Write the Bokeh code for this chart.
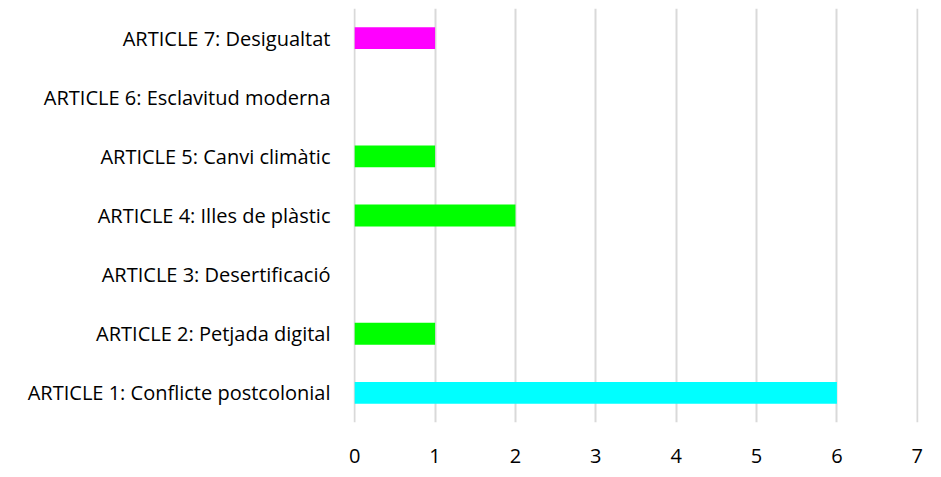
from bokeh.plotting import figure
from bokeh.models import ColumnDataSource, FactorRange, Range1d, FixedTicker
from bokeh.embed import file_html
from bokeh.resources import INLINE

categories = [
    "ARTICLE 1: Conflicte postcolonial",
    "ARTICLE 2: Petjada digital",
    "ARTICLE 3: Desertificació",
    "ARTICLE 4: Illes de plàstic",
    "ARTICLE 5: Canvi climàtic",
    "ARTICLE 6: Esclavitud moderna",
    "ARTICLE 7: Desigualtat",
]
values = [6, 1, 0, 2, 1, 0, 1]
colors = ["#00FFFF", "#00FF00", "#00FF00", "#00FF00", "#00FF00", "#FF00FF", "#FF00FF"]
x_ticks = [0, 1, 2, 3, 4, 5, 6, 7]

src = ColumnDataSource(dict(cat=categories, val=values, color=colors))

p = figure(width=933, height=475, output_backend="svg", toolbar_location=None,
           y_range=FactorRange(factors=categories), x_range=Range1d(-0.015, 7.015),
           min_border_left=353, min_border_right=15, min_border_top=8, min_border_bottom=53)
p.hbar(y="cat", left=0, right="val", height=0.37, fill_color="color", line_color=None, source=src)

p.outline_line_color = None
p.ygrid.grid_line_color = None
p.xgrid.grid_line_color = "#d9d9d9"
p.xgrid.grid_line_width = 2
p.xgrid.level = "underlay"
p.xaxis.ticker = FixedTicker(ticks=x_ticks)
for ax in (p.xaxis[0], p.yaxis[0]):
    ax.axis_line_color = None
    ax.major_tick_line_color = None
    ax.minor_tick_line_color = None
    ax.major_label_text_font = "Open Sans"
    ax.major_label_text_font_size = "20px"
    ax.major_label_text_color = "#000000"
p.xaxis.major_label_standoff = 20
p.yaxis.major_label_standoff = 17

open("out.html", "w").write(file_html(p, INLINE))
